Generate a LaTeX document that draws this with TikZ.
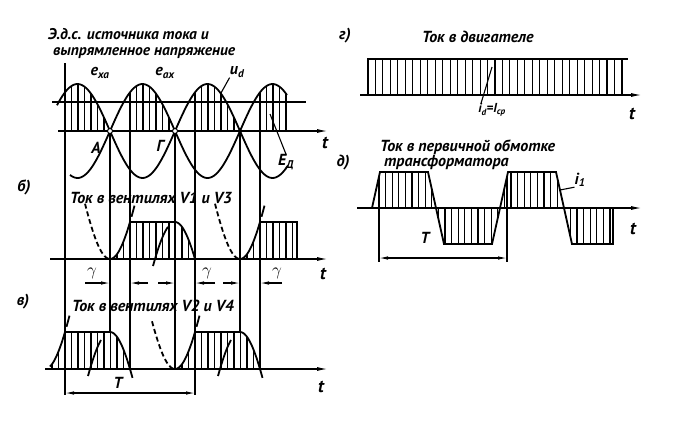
\documentclass[tikz,border=0pt]{standalone}
\usepackage{fontspec}
\setmainfont{PT Sans}
\usetikzlibrary{arrows.meta}

\begin{document}
\begin{tikzpicture}[x=1pt,y=-1pt,
  declare function={ud(\x)=47*abs(sin((\x-45)*2.76923));
    ris(\t)=37*(1-cos(\t*2.76923))/(1-cos(20*2.76923));
    pul(\t)=(\t<20)?ris(\t):((\t<65)?37:37-ris(\t-65));
    tw(\u)=36*max(-1,min(1,((\u<64)?min(\u,64-\u):-min(\u-64,128-\u))/8));},
  every node/.style={font=\bfseries\itshape\fontsize{16}{14}\selectfont, inner sep=0pt},
  curve/.style={line width=1.8pt},
  hatch/.style={line width=1.1pt},
  axis/.style={line width=1.3pt,-{Latex[length=11pt,width=4pt]}},
  dimarr/.style={line width=1.1pt,{Latex[length=9pt,width=3.5pt]}-{Latex[length=9pt,width=3.5pt]}},
  garr/.style={line width=1.1pt,-{Latex[length=9pt,width=3.5pt]}},
  lead/.style={line width=1.1pt}]
  \fill[white] (0,0) rectangle (675,440);
  \useasboundingbox (0,0) rectangle (675,440);

  % a) e.m.f. and rectified voltage
  \node[anchor=west,align=left,font=\bfseries\itshape\fontsize{15.5}{16}\selectfont] (ttla) at (48,43)
    {Э.д.с. источника тока и\\\hspace*{5pt}выпрямленное напряжение};
  \draw[curve] (52,102) -- (306,102);
  \draw[axis] (58,131) -- (328,131);
  \draw[curve] plot[domain=57:288,samples=120] (\x,{131-47*sin((\x-45)*2.76923)});
  \draw[curve] plot[domain=70:287,samples=120] (\x,{131+47*sin((\x-45)*2.76923)});
  \foreach \z in {45,110,175}
    \foreach \x in {20,26.5,...,60}
      \draw[hatch] ({\z+\x},131) -- ({\z+\x},{131-ud(\z+\x)});
  \foreach \x in {260,266.5,...,287}
    \draw[hatch] (\x,131) -- (\x,{131-ud(\x)});
  % long verticals
  \draw[hatch] (65,63) -- (65,395);
  \foreach \x/\e in {110/333,175/369,240/333}
    \draw[hatch] (\x,131) -- (\x,\e);
  \foreach \x/\e in {130/369,195/395,260/369}
    \draw[hatch] (\x,{131-ud(\x)}) -- (\x,\e);
  \draw[line width=1pt,fill=white] (110,131) circle (2.5pt);
  \draw[line width=1pt,fill=white] (175,131) circle (2.5pt);
  \node (exa) at (100,73) {e\textsubscript{xa}};
  \node (eax) at (165,73) {e\textsubscript{ax}};
  \node (uda) at (237,72) {u\textsubscript{d}};
  \coordinate (udp) at (221,93);
  \draw[lead] (uda.south west) -- (udp);
  \node (ptA) at (96,148) {A};
  \node (ptG) at (160,146) {Г};
  \node (EdA) at (286,162) {E\textsubscript{Д}};
  \coordinate (Edp) at (270,114);
  \draw[lead] (EdA.north) -- (Edp);
  \node (ta) at (325,143) {\fontsize{18}{18}\selectfont t};

  % b) current in V1, V3
  \node (lb) at (24,187) {б)};
  \node[anchor=west] (ttlc) at (70,198) {Ток в вентилях V1 и V3};
  \draw[axis] (50,259) -- (328,259);
  \draw[curve] plot[domain=110:130,samples=20] (\x,{259-ris(\x-110)}) -- (175,222)
    -- plot[domain=175:195,samples=20] (\x,{222+ris(\x-175)});
  \draw[curve,dash pattern=on 5pt off 3pt] plot[domain=85:110,samples=20] (\x,{259-ris(110-\x)});
  \draw[curve] plot[domain=131.5:134.5,samples=4] (\x,{259-ris(\x-110)});
  \draw[curve] plot[domain=153:168,samples=12] (\x,{222+ris(175-\x)});
  \foreach \x in {117,123.5,...,193}
    \draw[hatch] (\x,259) -- (\x,{259-pul(\x-110)});
  \draw[curve] plot[domain=240:260,samples=20] (\x,{259-ris(\x-240)}) -- (297,222) -- (297,259);
  \draw[curve,dash pattern=on 5pt off 3pt] plot[domain=215:240,samples=20] (\x,{259-ris(240-\x)});
  \draw[curve] plot[domain=261.5:264.5,samples=4] (\x,{259-ris(\x-240)});
  \foreach \x in {247,253.5,...,296}
    \draw[hatch] (\x,259) -- (\x,{259-pul(\x-240)});
  \foreach \a/\b/\c/\d in {85/110/148/130,158/175/215/195,223/240/282/260}
  {
    \draw[garr] (\a,283) -- (\b,283);
    \draw[garr] (\c,283) -- (\d,283);
  }
  \node (ga) at (92,273) {\fontsize{19}{19}\selectfont$\gamma$};
  \node (gb) at (207,273) {\fontsize{19}{19}\selectfont$\gamma$};
  \node (gc) at (277,273) {\fontsize{19}{19}\selectfont$\gamma$};
  \node (tb) at (323,274) {\fontsize{18}{18}\selectfont t};

  % c) current in V2, V4
  \node (lc) at (23,302) {в)};
  \node[anchor=west] (ttld) at (72,306) {Ток в вентилях V2 и V4};
  \draw[axis] (45,369) -- (328,369);
  \draw[curve] plot[domain=50:65,samples=15] (\x,{369-ris(\x-45)}) -- (110,332)
    -- plot[domain=110:132.5,samples=20] (\x,{332+ris(\x-110)});
  \draw[curve] plot[domain=66.5:69.5,samples=4] (\x,{369-ris(\x-45)});
  \draw[curve] plot[domain=88:101,samples=12] (\x,{332+ris(110-\x)});
  \foreach \x in {52,58.5,...,129}
    \draw[hatch] (\x,369) -- (\x,{369-pul(\x-45)});
  \draw[curve,dash pattern=on 5pt off 3pt] plot[domain=152:175,samples=20] (\x,{369-ris(175-\x)});
  \draw[curve] plot[domain=175:195,samples=20] (\x,{369-ris(\x-175)}) -- (240,332)
    -- plot[domain=240:262.5,samples=20] (\x,{332+ris(\x-240)});
  \draw[curve] plot[domain=196.5:199.5,samples=4] (\x,{369-ris(\x-175)});
  \draw[curve] plot[domain=218:231,samples=12] (\x,{332+ris(240-\x)});
  \foreach \x in {182,188.5,...,259}
    \draw[hatch] (\x,369) -- (\x,{369-pul(\x-175)});
  \draw[dimarr] (65,393) -- (195,393);
  \node (Tc) at (118,383) {T};
  \node (tc) at (321,387) {\fontsize{18}{18}\selectfont t};

  % d) motor current
  \node (lg) at (345,36) {г)};
  \node[anchor=west] (ttle) at (422,37) {Ток в двигателе};
  \draw[curve] (368,95) -- (368,59) -- (628,59);
  \foreach \i in {1,...,34}
    \draw[hatch] ({368+7.47*\i},95) -- ({368+7.47*\i},59);
  \draw[axis] (360,95) -- (642,95);
  \node (idI) at (492,110) {\fontsize{13}{14}\selectfont i\textsubscript{d}=I\textsubscript{ср}};
  \coordinate (idp) at (492,67);
  \draw[lead] ([xshift=-11pt]idI.north) -- (idp);
  \node (td) at (632,114) {\fontsize{18}{18}\selectfont t};

  % e) primary winding current
  \node (ld) at (343,163) {д)};
  \node[anchor=west,align=left] (ttlf) at (380,155) {Ток в первичной обмотке\\\hspace*{4pt}трансформатора};
  \draw[axis] (357,208) -- (642,208);
  \draw[curve] (372,208) -- (380,172) -- (428,172) -- (444,244) -- (492,244) -- (508,172)
    -- (556,172) -- (572,244) -- (613,244) -- (613,208);
  \foreach \x in {385.6,392.2,...,612}
    \draw[hatch] (\x,208) -- (\x,{208-tw(mod(\x-372,128))});
  \draw[hatch] (379,{208-tw(7)}) -- (379,262);
  \draw[hatch] (507,{208-tw(7)}) -- (507,262);
  \draw[dimarr] (379,258) -- (507,258);
  \node (Te) at (425,238) {T};
  \node (i1) at (580,180) {i\textsubscript{1}};
  \coordinate (i1p) at (560,190);
  \draw[lead] (i1.south west) -- (i1p);
  \node (te) at (633,229) {\fontsize{18}{18}\selectfont t};
\end{tikzpicture}
\end{document}
